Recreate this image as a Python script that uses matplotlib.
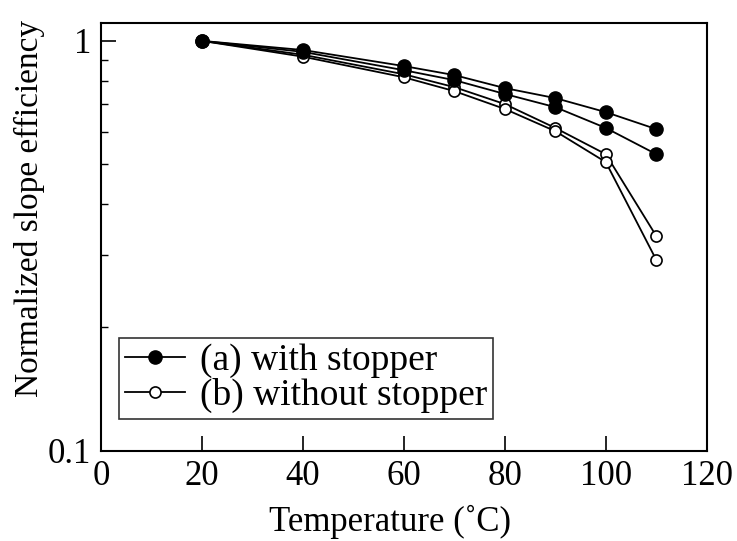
import matplotlib
matplotlib.use("Agg")
import matplotlib.pyplot as plt
from matplotlib.ticker import FixedLocator, NullFormatter

plt.rcParams['font.family'] = ['Liberation Serif', 'DejaVu Serif']

temps = [20, 40, 60, 70, 80, 90, 100, 110]

# (a) devices with stopper
with_stopper_1 = [1.0, 0.95, 0.868, 0.825, 0.767, 0.725, 0.670, 0.609]
with_stopper_2 = [1.0, 0.94, 0.848, 0.802, 0.742, 0.689, 0.613, 0.529]

# (b) devices without stopper
without_stopper_1 = [1.0, 0.925, 0.829, 0.771, 0.701, 0.613, 0.529, 0.334]
without_stopper_2 = [1.0, 0.915, 0.815, 0.754, 0.682, 0.602, 0.506, 0.292]

x_ticks = [0, 20, 40, 60, 80, 100, 120]

fig = plt.figure(figsize=(7.37, 5.41), dpi=100)
ax = fig.add_axes([0.137, 0.167, 0.822, 0.790])

filled = dict(color='black', marker='o', markersize=9.5, linewidth=1.3,
              markerfacecolor='black', markeredgecolor='black')
hollow = dict(color='black', marker='o', markersize=8, linewidth=1.3,
              markerfacecolor='white', markeredgecolor='black', markeredgewidth=1.2)

# open markers first so the filled ones sit on top at the shared 20 C point
hb, = ax.plot(temps, without_stopper_1, label='(b) without stopper', **hollow)
ax.plot(temps, without_stopper_2, **hollow)
ha, = ax.plot(temps, with_stopper_1, label='(a) with stopper', **filled)
ax.plot(temps, with_stopper_2, **filled)

ax.set_yscale('log')
ax.set_ylim(0.1, 1.104)
ax.set_xlim(0, 120)

ax.xaxis.set_major_locator(FixedLocator(x_ticks))
ax.yaxis.set_major_locator(FixedLocator([0.1, 1]))
ax.yaxis.set_minor_locator(FixedLocator([0.2, 0.3, 0.4, 0.5, 0.6, 0.7, 0.8, 0.9]))
ax.yaxis.set_minor_formatter(NullFormatter())
ax.set_yticklabels(['0.1', '1'])

ax.tick_params(axis='both', which='major', direction='in', length=11, width=1.2,
               labelsize=25, pad=7, top=False, right=False)
ax.tick_params(axis='y', which='minor', direction='in', length=5, width=1.0,
               right=False)

for side in ['left', 'bottom', 'right', 'top']:
    ax.spines[side].set_linewidth(1.5)

ax.set_xlabel('Temperature (˚C)', fontsize=25, labelpad=8)
ax.set_ylabel('Normalized slope efficiency', fontsize=24, labelpad=2)
ax.xaxis.label.set_x(0.477)
ax.yaxis.label.set_y(0.567)

leg = ax.legend(handles=[ha, hb], loc='lower left', bbox_to_anchor=(0.03, 0.075),
                borderaxespad=0, fontsize=27, frameon=True, fancybox=False,
                handlelength=1.6, handletextpad=0.4, borderpad=0.15,
                labelspacing=0.0)
leg.get_frame().set_edgecolor('black')
leg.get_frame().set_linewidth(1.2)

fig.savefig('out.png', dpi=100)
